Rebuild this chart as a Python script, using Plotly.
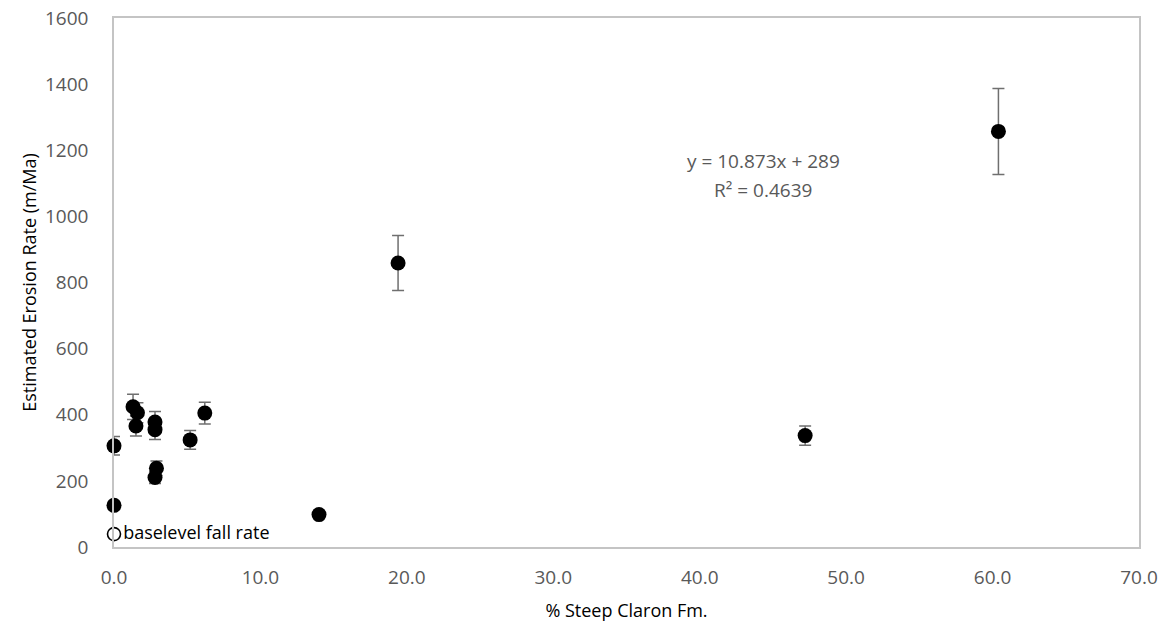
import plotly.graph_objects as go

# Data
steep_pct = [0.0, 0.0, 1.3, 1.6, 1.5, 2.8, 2.8, 2.9, 2.8, 5.2, 6.2, 14.0, 19.4, 47.2, 60.4]
erosion_rate = [306, 126, 424, 406, 366, 378, 355, 238, 210, 324, 405, 98, 859, 337, 1257]
erosion_err = [28, 0, 38, 30, 30, 32, 30, 22, 18, 28, 33, 0, 83, 29, 130]

baselevel_x = [0.0]
baselevel_y = [39]
baselevel_label = "baselevel fall rate"

eq_line1 = "y = 10.873x + 289"
eq_line2 = "R² = 0.4639"
eq_x = 44.34
eq_y1 = 1166
eq_y2 = 1081

x_ticks = [0, 10, 20, 30, 40, 50, 60, 70]
y_ticks = [0, 200, 400, 600, 800, 1000, 1200, 1400, 1600]

FONT = "Open Sans"
GRAY = "#595959"

fig = go.Figure()

fig.add_trace(go.Scatter(
    x=steep_pct, y=erosion_rate, mode="markers",
    marker=dict(color="black", size=15),
    error_y=dict(type="data", array=erosion_err, visible=True,
                 color="#6f6f6f", thickness=1.5, width=6),
    showlegend=False, cliponaxis=False,
))

fig.add_trace(go.Scatter(
    x=baselevel_x, y=baselevel_y, mode="markers+text",
    marker=dict(color="white", size=13, line=dict(color="black", width=1.6)),
    text=[baselevel_label], textposition="middle right",
    textfont=dict(family=FONT, size=18, color="black"),
    showlegend=False, cliponaxis=False,
))

for txt, yy in [(eq_line1, eq_y1), (eq_line2, eq_y2)]:
    fig.add_annotation(
        x=eq_x, y=yy, xref="x", yref="y", text=txt, showarrow=False,
        font=dict(family=FONT, size=19, color=GRAY), align="center",
    )

fig.update_layout(
    width=1169, height=626,
    margin=dict(l=114, r=30, t=18, b=79),
    plot_bgcolor="white", paper_bgcolor="white",
    font=dict(family=FONT, size=19, color=GRAY),
    xaxis=dict(
        range=[0, 70], tickvals=x_ticks, tickformat=".1f",
        showgrid=False, zeroline=False, automargin=False,
        showline=True, linecolor="#c4c4c4", linewidth=1.5, mirror=True,
        ticks="", ticklabelstandoff=12,
        tickfont=dict(family=FONT, size=19, color=GRAY),
        title=dict(text="% Steep Claron Fm.", font=dict(family=FONT, size=18, color="black"), standoff=16),
    ),
    yaxis=dict(
        range=[0, 1600], tickvals=y_ticks,
        showgrid=False, zeroline=False, automargin=False,
        showline=True, linecolor="#c4c4c4", linewidth=1.5, mirror=True,
        ticks="", ticklabelstandoff=20,
        tickfont=dict(family=FONT, size=19, color=GRAY),
        title=dict(text="Estimated Erosion Rate (m/Ma)", font=dict(family=FONT, size=18, color="black"), standoff=4),
    ),
)

fig.write_html("out.html")
